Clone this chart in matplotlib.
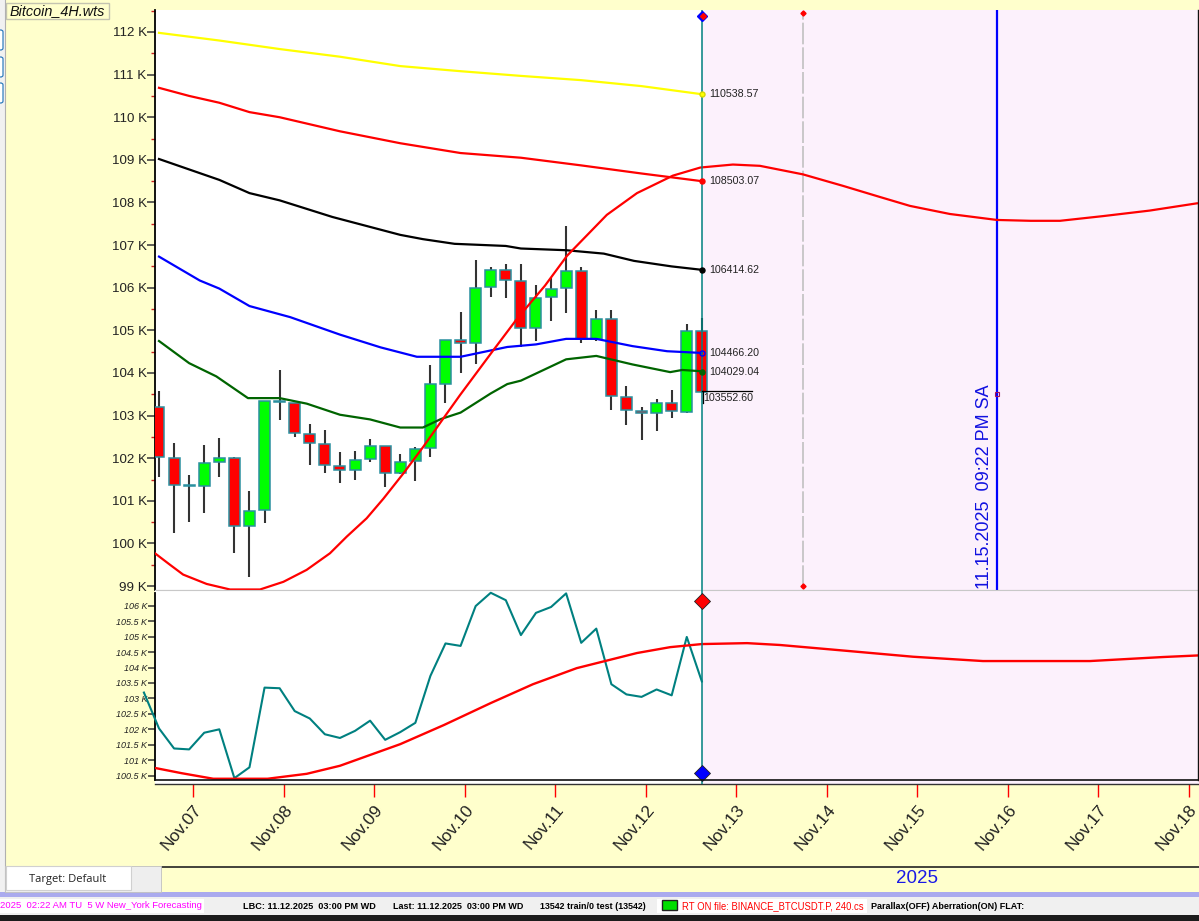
import matplotlib
matplotlib.use("Agg")
import matplotlib.pyplot as plt
from matplotlib.patches import Rectangle, FancyBboxPatch

plt.rcParams['font.family'] = ['Liberation Sans', 'DejaVu Sans']

W, H = 1199, 921

# candles, 4H bars, prices in thousands
opens = [103.19, 102.00, 101.36, 101.34, 101.91, 102.00, 100.42, 100.79, 103.35, 103.30,
         102.56, 102.33, 101.81, 101.72, 101.98, 102.28, 101.66, 101.93, 102.23, 103.75,
         104.78, 104.71, 106.01, 106.42, 106.15, 105.05, 105.79, 105.99, 106.40, 104.80,
         105.26, 103.43, 103.11, 103.05, 103.29, 103.09, 104.99]
closes = [102.03, 101.38, 101.35, 101.89, 102.00, 100.42, 100.77, 103.35, 103.33, 102.59,
          102.35, 101.84, 101.72, 101.95, 102.28, 101.66, 101.91, 102.21, 103.73, 104.78,
          104.70, 105.99, 106.42, 106.18, 105.05, 105.77, 105.96, 106.40, 104.80, 105.26,
          103.46, 103.13, 103.05, 103.29, 103.10, 104.99, 103.55]
highs = [103.57, 102.36, 101.60, 102.31, 102.48, 102.03, 101.24, 103.35, 104.06, 103.30,
         102.80, 102.66, 102.15, 102.17, 102.45, 102.28, 102.11, 102.27, 104.18, 104.78,
         105.44, 106.65, 106.48, 106.56, 106.56, 106.07, 106.23, 107.45, 106.48, 105.47,
         105.47, 103.69, 103.19, 103.39, 103.60, 105.16, 105.30]
lows = [101.56, 100.25, 100.50, 100.72, 101.55, 99.77, 99.22, 100.48, 102.90, 102.50,
        101.85, 101.66, 101.41, 101.48, 101.92, 101.33, 101.62, 101.46, 102.02, 103.30,
        104.00, 104.21, 105.79, 105.76, 104.61, 104.75, 105.21, 105.40, 104.70, 104.75,
        103.13, 102.79, 102.42, 102.65, 102.95, 103.07, 103.55]
prev_close = 103.19

# bands, x in bars
yellow_x = [0, 4, 8, 12, 16, 20, 24, 28, 32, 36]
yellow_y = [111.98, 111.80, 111.60, 111.42, 111.20, 111.08, 110.97, 110.87, 110.73, 110.54]
red_x = [0, 2, 4, 6, 8, 12, 16, 20, 24, 28, 32, 36]
red_y = [110.69, 110.50, 110.34, 110.12, 110.00, 109.67, 109.39, 109.16, 109.05, 108.87, 108.68, 108.50]
black_x = [0, 4, 6, 8, 11.5, 16, 17.5, 19.6, 23, 24, 27, 29.5, 31.5, 34, 36]
black_y = [109.02, 108.53, 108.22, 108.05, 107.66, 107.24, 107.14, 107.03, 106.98, 106.92, 106.88, 106.80, 106.63, 106.50, 106.42]
blue_x = [0, 2.7, 4, 6, 8.7, 12, 14.7, 17.1, 20, 23.1, 25, 27, 29, 31.4, 33.7, 36]
blue_y = [106.73, 106.17, 105.98, 105.57, 105.31, 104.90, 104.60, 104.38, 104.38, 104.61, 104.67, 104.80, 104.80, 104.63, 104.51, 104.47]
green_x = [0, 2, 3.8, 5.9, 8, 9.8, 12, 14, 16, 17.5, 18.7, 20, 22, 23.1, 24, 27, 29, 31.4, 33.9, 34.7, 36]
green_y = [104.75, 104.23, 103.92, 103.41, 103.41, 103.28, 103.02, 102.91, 102.72, 102.72, 102.92, 103.07, 103.52, 103.74, 103.82, 104.32, 104.40, 104.20, 104.02, 104.07, 104.04]

# forecast curve in the price panel
fc_x = [-0.27, 0.73, 1.6, 3.16, 4.71, 6.7, 8.25, 9.79, 11.34, 12.45, 13.77, 14.88, 16.2, 17.53, 18.85, 19.96,
        22.08, 23.74, 25.6, 27.06, 29.7, 31.7, 34.08, 35.9, 38.06, 39.85, 42.7, 45.36, 47.8, 49.8, 52.45, 55.57,
        57.8, 59.75, 62.6, 65.7, 68.83]
fc_y = [99.77, 99.50, 99.27, 99.05, 98.92, 98.92, 99.10, 99.38, 99.77, 100.16, 100.59, 101.05, 101.64, 102.27, 102.93, 103.48,
        104.49, 105.27, 106.05, 106.75, 107.71, 108.22, 108.63, 108.82, 108.89, 108.86, 108.66, 108.39, 108.13, 107.92, 107.73, 107.59,
        107.57, 107.57, 107.68, 107.81, 107.98]

# forecast curve in the lower panel
low_fc_x = [-0.27, 1.5, 3.6, 7.2, 9.8, 12, 16, 18.9, 22, 24.8, 27.7, 31.7, 33.9, 36, 39, 41.18, 45.62, 50, 54.64, 61.74, 66.58, 68.83]
low_fc_y = [100.75, 100.58, 100.40, 100.40, 100.56, 100.82, 101.52, 102.14, 102.85, 103.46, 103.98, 104.47, 104.66, 104.76, 104.79, 104.73, 104.54, 104.35, 104.21, 104.21, 104.34, 104.39]

last_values = [110538.57, 108503.07, 106414.62, 104466.20, 104029.04]
last_colors = ['#ffff00', '#ff0000', '#000000', '#0000ff', '#006400']
last_price = 103552.60

days = ['Nov.07', 'Nov.08', 'Nov.09', 'Nov.10', 'Nov.11', 'Nov.12', 'Nov.13',
        'Nov.14', 'Nov.15', 'Nov.16', 'Nov.17', 'Nov.18']
day_ticks = [2.28 + 6.0 * i for i in range(len(days))]

now_x = 36
dash_x = 42.7
blue_x_line = 55.57
xlim = (-0.265, 68.97)

YEL = '#ffffcc'
PINK = '#fcf1fc'
TEAL = '#008080'


def px(x, y):
    return x / W, 1 - y / H


def box(x0, y0, x1, y1, **kw):
    kw.setdefault('lw', 0)
    fig.add_artist(Rectangle(px(x0, y1), (x1 - x0) / W, (y1 - y0) / H, transform=fig.transFigure, **kw))


def hline(x0, x1, y, color='black', lw=1.2):
    fig.add_artist(plt.Line2D([x0 / W, x1 / W], [1 - y / H, 1 - y / H], color=color, lw=lw))


def vline(x, y0, y1, color='black', lw=1.2):
    fig.add_artist(plt.Line2D([x / W, x / W], [1 - y0 / H, 1 - y1 / H], color=color, lw=lw))


def label(x, y, s, **kw):
    kw.setdefault('va', 'center')
    fig.text(x / W, 1 - y / H, s, **kw)


fig = plt.figure(figsize=(W / 100, H / 100), dpi=100, facecolor=YEL)

ax = fig.add_axes([155 / W, 1 - 590 / H, (W - 155) / W, 580 / H])
ax2 = fig.add_axes([155 / W, 1 - 784 / H, (W - 155) / W, 194 / H])

# price panel
ax.set_xlim(xlim)
ax.set_ylim(98.908, 112.516)
ax.axvspan(now_x, xlim[1], color=PINK, lw=0)

for i in range(len(opens)):
    ax.vlines(i, lows[i], highs[i], color='#333333', lw=1.5, zorder=2)
    up = closes[i] >= opens[i]
    ax.bar(i, abs(closes[i] - opens[i]), bottom=min(opens[i], closes[i]), width=0.73,
           color='#00ff00' if up else '#ff0000', edgecolor='#2a8f9f', lw=1.1, zorder=3)

ax.plot(yellow_x, yellow_y, color='#ffff00', lw=1.6, zorder=4)
ax.plot(red_x, red_y, color='#ff0000', lw=1.6, zorder=4)
ax.plot(black_x, black_y, color='#000000', lw=1.6, zorder=4)
ax.plot(blue_x, blue_y, color='#0000ff', lw=1.6, zorder=4)
ax.plot(green_x, green_y, color='#006400', lw=1.6, zorder=4)
ax.plot(fc_x, fc_y, color='#ff0000', lw=1.6, zorder=5)

ax.axvline(now_x, color=TEAL, lw=1.1, zorder=6)
ax.axvline(dash_x, color='#c0c0c0', lw=1.2, ls=(0, (13, 1.8)), ymin=0.006, ymax=0.994, zorder=2)
ax.plot([dash_x, dash_x], [99.0, 112.44], ls='none', marker='D', ms=2.6, color='#ff0000', zorder=6)
ax.axvline(blue_x_line, color='#0000ff', lw=1.6, zorder=4)
ax.plot(blue_x_line, 103.5, marker='s', ms=3, mfc='none', mec='#a01060', mew=0.8, zorder=6)
ax.plot(now_x, 112.37, marker='D', ms=5, color='#0000ff', zorder=7)
ax.plot(now_x + 0.08, 112.37, marker='D', ms=3, color='#ff0000', zorder=8)

for val, col in zip(last_values, last_colors):
    ax.plot(now_x, val / 1000, marker='o', ms=3.6, mfc=col if col != '#0000ff' else 'none',
            mec=col if col != '#ffff00' else '#d8d800', mew=1, color=col, zorder=9, clip_on=False)
    ax.annotate(f'{val:.2f}', (now_x, val / 1000), xytext=(7.5, 0), textcoords='offset pixels',
                fontsize=7.7, va='center', color='#222222', zorder=9)

ax.plot([now_x, now_x + 3.3], [103.58, 103.58], color='black', lw=0.9, zorder=9)
ax.plot([now_x + 0.08] * 2, [103.58, 103.30], color='black', lw=0.9, zorder=9)
ax.text(now_x + 0.1, 103.41, f'{last_price:.2f}', fontsize=7.7, va='center', color='#222222', zorder=9)

ax.set_yticks(list(range(99, 113)))
ax.set_yticklabels([f'{v} K' for v in range(99, 113)], fontsize=9.6, color='#222222')
ax.set_yticks([v + 0.5 for v in range(98, 113) if 98.9 < v + 0.5 < 112.6], minor=True)
ax.tick_params(axis='y', which='major', length=6, width=1.2, color='#444444', pad=0)
ax.tick_params(axis='y', which='minor', length=3, width=1, color='#cc2020')
ax.tick_params(axis='x', which='both', bottom=False, labelbottom=False)
for s in ['top', 'right']:
    ax.spines[s].set_visible(False)
ax.spines['bottom'].set_color('#c8c8c8')
ax.spines['left'].set_linewidth(1.3)

# lower panel
ax2.set_xlim(xlim)
ax2.set_ylim(100.23, 106.51)
ax2.axvspan(now_x, xlim[1], color=PINK, lw=0)
ax2.plot(range(-1, len(closes)), [prev_close] + closes, color=TEAL, lw=1.5, zorder=4, clip_on=False)
ax2.plot(low_fc_x, low_fc_y, color='#ff0000', lw=1.7, zorder=5)
ax2.axvline(now_x, color=TEAL, lw=1.1, zorder=6)
ax2.plot(now_x, 106.16, marker='D', ms=8, mfc='#ff0000', mec='#222222', mew=0.6, zorder=7)
ax2.plot(now_x, 100.57, marker='D', ms=8, mfc='#0000ff', mec='#222222', mew=0.6, zorder=7)

low_ticks = [100.5 + 0.5 * i for i in range(12)]
ax2.set_yticks(low_ticks)
ax2.set_yticklabels([f'{v:g} K' for v in low_ticks], fontsize=6.5, style='italic', color='#222222')
ax2.tick_params(axis='y', length=5, width=1.1, color='#333333', pad=0.5)
ax2.set_xticks(day_ticks)
ax2.set_xticklabels(days, fontsize=12.5, rotation=50, ha='right', rotation_mode='anchor', color='#222222')
ax2.tick_params(axis='x', length=9.5, width=1, color='#ff0000', pad=3.5)
ax2.spines['right'].set_visible(False)
ax2.spines['top'].set_color('#c8c8c8')
ax2.spines['left'].set_bounds(100.35, 106.4)
ax2.spines['left'].set_linewidth(1.3)
ax2.spines['bottom'].set_color('#333333')
ax2.spines['bottom'].set_linewidth(1.0)
hline(155, W, 780, color='#111111', lw=1.2)
vline(1197.5, 10, 780, color='#111111', lw=1.0)

# window chrome
box(0, 0, 5, 892, fc='#f1f1f1', zorder=-1)
vline(4.5, 0, 892, color='#b0b0b0', lw=0.8)
for y0, y1, c in [(30, 50, '#1a70b8'), (57, 77, '#1a70b8'), (83, 103, '#1a70b8')]:
    fig.add_artist(FancyBboxPatch(px(-3, y1), 6 / W, (y1 - y0) / H, boxstyle='round,pad=0,rounding_size=0.002',
                                  transform=fig.transFigure, fc='white', ec=c, lw=0.8))
box(6, 3, 109, 19, fc=YEL, ec='#c4c4b0', lw=1)
label(10, 11, 'Bitcoin_4H.wts', fontsize=10.4, style='italic', color='#111111')

hline(162, W, 867, color='#222222', lw=1.2)
box(5, 866, 161, 892, fc='#eeeeee', ec='#c0c0c0', lw=0.6, zorder=2)
box(6, 866, 131, 890, fc='white', ec='#d0d0d0', lw=0.8, zorder=3)
label(68, 879, 'Target: Default', fontsize=8, ha='center', color='#222222', zorder=4, family=['Open Sans', 'DejaVu Sans'])
label(917, 878.5, '2025', fontsize=13.5, ha='center', color='#1a1ae6')

box(0, 892, W, 897, fc='#aaaaee')
box(0, 897, W, 915, fc='#f0f0f0')
box(0, 915, W, H, fc='#1c1c1c')
box(0, 899, 204, 913, fc='white')
box(657, 899, 867, 913, fc='white')
label(0, 905, '2025  02:22 AM TU  5 W New_York Forecasting', fontsize=6.8, color='#ff00ff')
label(243, 906, 'LBC: 11.12.2025  03:00 PM WD', fontsize=6.6, weight='bold', color='black')
label(393, 906, 'Last: 11.12.2025  03:00 PM WD', fontsize=6.5, weight='bold', color='black')
label(540, 906, '13542 train/0 test (13542)', fontsize=6.4, weight='bold', color='black')
box(662, 900, 677, 910, fc='#00e000', ec='#222222', lw=1)
label(682, 906, 'RT ON file: BINANCE_BTCUSDT.P, 240.cs', fontsize=6.85, color='#ff0000')
label(871, 906, 'Parallax(OFF) Aberration(ON) FLAT:', fontsize=6.5, weight='bold', color='black')

# time label on the blue line
label(985, 589, '11.15.2025  09:22 PM SA', fontsize=13, rotation=90, va='bottom', ha='center', color='#1010e0', zorder=6)

fig.savefig('out.png', dpi=100, facecolor=YEL)
